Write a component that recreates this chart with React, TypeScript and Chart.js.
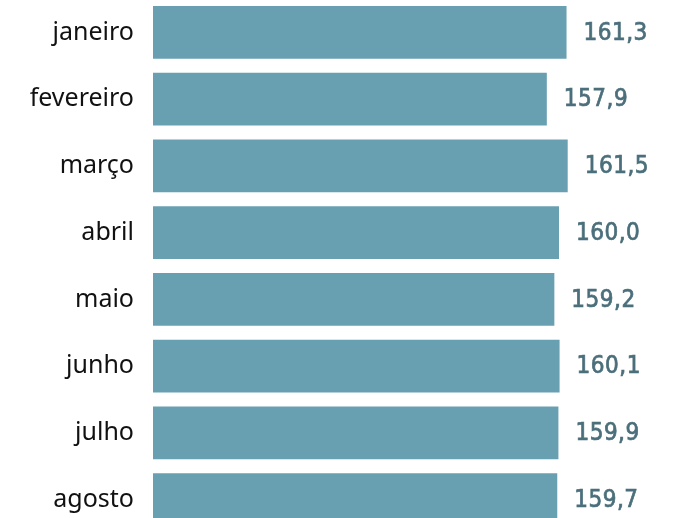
import React, { useEffect, useRef } from "react";
import { Chart, registerables } from "chart.js";

Chart.register(...registerables);

const categories = ["janeiro", "fevereiro", "março", "abril", "maio", "junho", "julho", "agosto"];
const values = [161.3, 157.9, 161.5, 160.0, 159.2, 160.1, 159.9, 159.7];
const valueLabels = ["161,3", "157,9", "161,5", "160,0", "159,2", "160,1", "159,9", "159,7"];

const valueLabelPlugin = {
  id: "valueLabels",
  afterDatasetsDraw(chart: any) {
    const ctx = chart.ctx;
    const meta = chart.getDatasetMeta(0);
    ctx.save();
    ctx.fillStyle = "#4b6f7b";
    ctx.strokeStyle = "#4b6f7b";
    ctx.lineWidth = 0.7;
    ctx.font = "24px 'DejaVu Sans Condensed', 'DejaVu Sans', sans-serif";
    ctx.textAlign = "left";
    ctx.textBaseline = "middle";
    try { (ctx as any).letterSpacing = "0.5px"; } catch (e) {}
    meta.data.forEach((bar: any, i: number) => {
      ctx.fillText(valueLabels[i], bar.x + 17, bar.y + 1);
      ctx.strokeText(valueLabels[i], bar.x + 17, bar.y + 1);
    });
    ctx.restore();
  },
};

export default function App() {
  const ref = useRef<HTMLCanvasElement | null>(null);
  useEffect(() => {
    if (!ref.current) return;
    const chart = new Chart(ref.current, {
      type: "bar",
      data: {
        labels: categories,
        datasets: [
          {
            data: values,
            backgroundColor: "#68a0b2",
            borderWidth: 0,
            categoryPercentage: 1,
            barPercentage: 0.79,
          },
        ],
      },
      options: {
        indexAxis: "y",
        animation: false,
        responsive: false,
        maintainAspectRatio: false,
        devicePixelRatio: 1,
        layout: { padding: 0 },
        plugins: { legend: { display: false }, tooltip: { enabled: false } },
        scales: {
          x: { display: false, min: 90, max: 180 },
          y: {
            grid: { display: false, drawTicks: false },
            border: { display: false },
            ticks: {
              color: "#111",
              padding: 19,
              font: { family: "'Noto Sans', 'Open Sans', sans-serif", size: 25 },
            },
            afterFit(scale: any) {
              scale.width = 153;
              scale.paddingTop = 0;
              scale.paddingBottom = 0;
            },
          },
        },
      },
      plugins: [valueLabelPlugin],
    });
    return () => chart.destroy();
  }, []);
  return (
    <div style={{ position: "fixed", top: -1, left: 0, width: 675, height: 534, background: "#fff" }}>
      <canvas ref={ref} width={675} height={534} style={{ display: "block", width: 675, height: 534 }} />
    </div>
  );
}
